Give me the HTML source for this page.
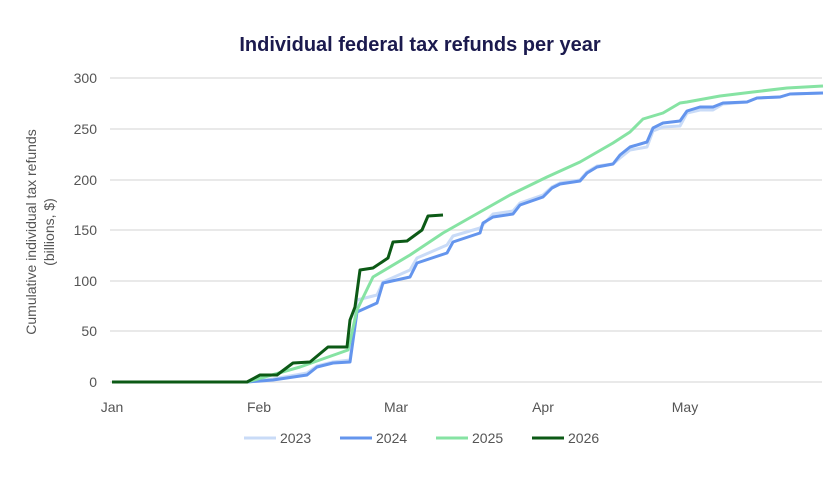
<!DOCTYPE html>
<html><head><style>
body{margin:0;background:#fff;}
svg text{font-family:"Liberation Sans",sans-serif;}
</style></head><body>
<svg width="840" height="472" xmlns="http://www.w3.org/2000/svg">
<rect width="840" height="472" fill="#fff"/>
<text x="420" y="51" text-anchor="middle" font-size="20" font-weight="bold" fill="#1b1a4e">Individual federal tax refunds per year</text>
<g stroke="#e2e2e2" stroke-width="1.5">
<line x1="110" y1="78" x2="822" y2="78"/><line x1="110" y1="129" x2="822" y2="129"/>
<line x1="110" y1="180" x2="822" y2="180"/><line x1="110" y1="230" x2="822" y2="230"/>
<line x1="110" y1="281" x2="822" y2="281"/><line x1="110" y1="331" x2="822" y2="331"/>
<line x1="110" y1="382" x2="822" y2="382"/>
</g>
<g font-size="14" fill="#555" text-anchor="end">
<text x="97" y="83">300</text><text x="97" y="134">250</text><text x="97" y="185">200</text>
<text x="97" y="235">150</text><text x="97" y="286">100</text><text x="97" y="336">50</text><text x="97" y="387">0</text>
</g>
<g font-size="14" fill="#555" text-anchor="middle">
<text x="112" y="412">Jan</text><text x="259" y="412">Feb</text><text x="396" y="412">Mar</text>
<text x="543" y="412">Apr</text><text x="685" y="412">May</text>
</g>
<text transform="translate(36,232) rotate(-90)" text-anchor="middle" font-size="14" fill="#555">Cumulative individual tax refunds</text>
<text transform="translate(54,232) rotate(-90)" text-anchor="middle" font-size="14" fill="#555">(billions, $)</text>
<g fill="none" stroke-width="3" stroke-linejoin="round">
<polyline stroke="#c9dbf7" points="112,382 247,382 273,379 307,373 317,366 333,362 350,360 357,300 377,295 383,282 410,270 417,258 447,245 453,236 480,228 493,214 513,211 520,203 543,195 552,187 560,183 580,180 587,172 597,166 613,164 620,158 630,150 647,147 653,131 663,127 680,126 687,113 700,110 713,110 723,104 747,102 757,98 780,97 790,94 823,93"/>
<polyline stroke="#6495ed" points="112,382 247,382 273,380 307,375 317,367 333,363 350,362 357,312 377,303 383,283 410,277 417,263 447,253 453,242 480,233 483,223 493,217 513,214 520,205 543,197 552,188 560,184 580,181 587,173 597,167 613,164 620,155 630,147 647,142 653,128 663,123 680,121 687,111 700,107 713,107 723,103 747,102 757,98 780,97 790,94 823,93"/>
<polyline stroke="#86e3a3" points="112,382 247,382 300,367 348,350 357,310 373,277 410,255 443,233 480,212 510,195 547,177 580,162 613,143 630,132 643,119 663,113 680,103 687,102 720,96 753,92 787,88 823,86"/>
<polyline stroke="#0c5a16" points="112,382 247,382 260,375 277,375 293,363 310,362 328,347 347,347 350,320 355,307 360,270 373,268 388,258 393,242 407,241 422,230 428,216 443,215"/>
</g>
<g stroke-width="3">
<line x1="244" y1="438" x2="276" y2="438" stroke="#c9dbf7"/>
<line x1="340" y1="438" x2="372" y2="438" stroke="#6495ed"/>
<line x1="436" y1="438" x2="468" y2="438" stroke="#86e3a3"/>
<line x1="532" y1="438" x2="564" y2="438" stroke="#0c5a16"/>
</g>
<g font-size="14" fill="#555">
<text x="280" y="443">2023</text><text x="376" y="443">2024</text>
<text x="472" y="443">2025</text><text x="568" y="443">2026</text>
</g>
</svg>
</body></html>
